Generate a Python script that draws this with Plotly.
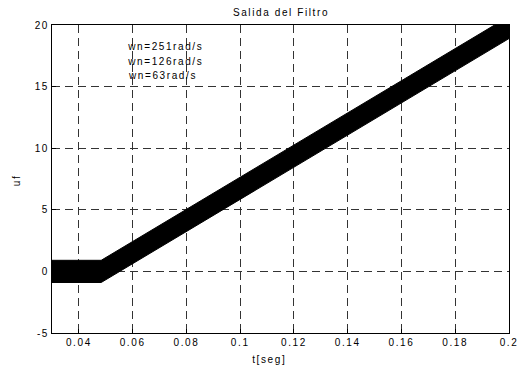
import plotly.graph_objects as go

# Data
t_knots = [0.03, 0.0483, 0.2]          # time [s]
uf_knots = [0.0, 0.0, 19.8]            # filtered output (centre of the ripple band)
ripple = 0.9                           # half-height of the ripple band
legend_labels = ["wn=251rad/s", "wn=126rad/s", "wn=63rad/s"]
x_ticks = [0.04, 0.06, 0.08, 0.1, 0.12, 0.14, 0.16, 0.18, 0.2]
x_ticklabels = ["0.04", "0.06", "0.08", "0.1", "0.12", "0.14", "0.16", "0.18", "0.2"]
y_ticks = [-5, 0, 5, 10, 15, 20]
y_ticklabels = ["-5", "0", "5", "10", "15", "20"]

FONT = "Liberation Sans, Arial, sans-serif"

upper = [v + ripple for v in uf_knots]
lower = [v - ripple for v in uf_knots]

fig = go.Figure()
fig.add_trace(go.Scatter(
    x=t_knots + t_knots[::-1],
    y=upper + lower[::-1],
    fill="toself", fillcolor="black",
    line=dict(color="black", width=1),
    mode="lines", showlegend=False, hoverinfo="skip",
))

grid = dict(showgrid=True, gridcolor="#333333", gridwidth=1, griddash="8px,5px")
fig.update_xaxes(range=[0.03, 0.2], tickvals=x_ticks, ticktext=x_ticklabels,
                 showline=True, linecolor="black", linewidth=1, mirror=True,
                 ticks="inside", ticklen=4, tickcolor="black", zeroline=False,
                 tickfont=dict(family=FONT, size=10, color="black"), **grid)
fig.update_yaxes(range=[-5, 20], tickvals=y_ticks, ticktext=y_ticklabels,
                 showline=True, linecolor="black", linewidth=1, mirror=True,
                 ticks="inside", ticklen=4, tickcolor="black", zeroline=False,
                 tickfont=dict(family=FONT, size=10, color="black"), **grid)

annotations = []
for i, lab in enumerate(legend_labels):
    annotations.append(dict(text=lab, xref="paper", yref="paper",
                            x=(135 - 52) / 464, y=(333 - (47 + 14 * i)) / 308,
                            xanchor="left", yanchor="middle", showarrow=False,
                            font=dict(family=FONT, size=10, color="black")))
annotations.append(dict(text="t[seg]", xref="paper", yref="paper",
                        x=(273 - 52) / 464, y=(333 - 360) / 308,
                        xanchor="center", yanchor="middle", showarrow=False,
                        font=dict(family=FONT, size=10, color="black")))
annotations.append(dict(text="uf", xref="paper", yref="paper",
                        x=(15 - 52) / 464, y=(333 - 180) / 308, textangle=-90,
                        xanchor="center", yanchor="middle", showarrow=False,
                        font=dict(family=FONT, size=10, color="black")))

fig.update_layout(
    width=525, height=370,
    margin=dict(l=52, r=9, t=25, b=37),
    paper_bgcolor="white", plot_bgcolor="white",
    title=dict(text="Salida del Filtro", x=281 / 525, xanchor="center",
               y=1 - 12 / 370, yanchor="middle", yref="container",
               font=dict(family=FONT, size=10, color="black")),
    annotations=annotations,
    showlegend=False,
)

post = """
var st = document.createElement('style');
st.textContent = '.main-svg text { letter-spacing: 1.6px; }';
document.head.appendChild(st);
"""
fig.write_html("out.html", post_script=post)
